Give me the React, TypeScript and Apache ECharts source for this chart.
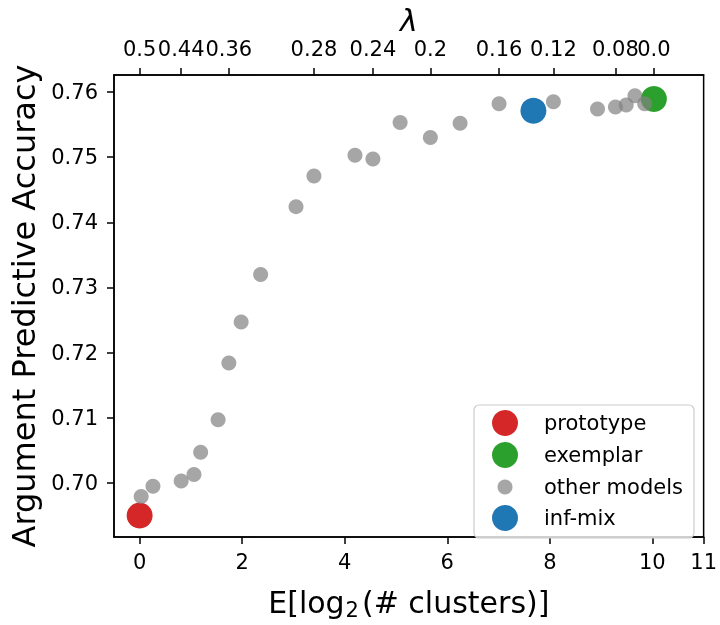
import React, { useEffect, useRef } from "react";
import * as echarts from "echarts";

const xTicks = [0, 2, 4, 6, 8, 10, 11];
const yTicks = [0.7, 0.71, 0.72, 0.73, 0.74, 0.75, 0.76];
const lambdaPositions = [0, 0.81, 1.74, 3.4, 4.55, 5.67, 7.01, 8.07, 9.28, 10.03];
const lambdaLabels = ["0.5", "0.44", "0.36", "0.28", "0.24", "0.2", "0.16", "0.12", "0.08", "0.0"];

const prototypeX = [0.0];
const prototypeY = [0.695];
const exemplarX = [10.03];
const exemplarY = [0.7589];
const infMixX = [7.68];
const infMixY = [0.7571];
const otherX = [0.03, 0.26, 0.81, 1.06, 1.19, 1.53, 1.74, 1.98, 2.36, 3.05, 3.4, 4.2, 4.55, 5.08, 5.67, 6.25, 7.01, 8.07, 8.93, 9.28, 9.49, 9.66, 9.85];
const otherY = [0.6979, 0.6995, 0.7003, 0.7013, 0.7047, 0.7097, 0.7184, 0.7247, 0.732, 0.7424, 0.7471, 0.7503, 0.7497, 0.7553, 0.753, 0.7552, 0.7582, 0.7585, 0.7574, 0.7577, 0.758, 0.7594, 0.7582];

const legendNames = ["prototype", "exemplar", "other models", "inf-mix"];
const legendColors = ["#d62728", "#2ca02c", "rgba(128,128,128,0.7)", "#1f77b4"];
const legendSizes = [13, 13, 7.5, 13];

const FONT = "DejaVu Sans";
const Y_MIN = 0.6917;
const Y_MAX = 0.7626;
const zip = (xs: number[], ys: number[]) => xs.map((x, i) => [x, ys[i]]);

export default function App() {
  const ref = useRef<HTMLDivElement>(null);
  useEffect(() => {
    if (!ref.current) return;
    const chart = echarts.init(ref.current, null, { renderer: "svg" });
    const axisLine = { show: true, onZero: false, lineStyle: { color: "#000", width: 1.5 } };
    const tick = { show: true, length: 7, lineStyle: { color: "#000", width: 1.5 } };
    const legendGraphics: any[] = [
      {
        type: "rect",
        shape: { x: 474, y: 405, width: 220, height: 133, r: 5 },
        style: { fill: "rgba(255,255,255,0.8)", stroke: "#cccccc", lineWidth: 1.2 },
        z: 10,
      },
    ];
    const rowsY = [423, 455, 487, 518];
    legendNames.forEach((n, i) => {
      legendGraphics.push({
        type: "circle",
        shape: { cx: 505, cy: rowsY[i], r: legendSizes[i] },
        style: { fill: legendColors[i] },
        z: 11,
      });
      legendGraphics.push({
        type: "text",
        x: 544,
        y: rowsY[i],
        style: { text: n, font: `21px '${FONT}'`, fill: "#000", verticalAlign: "middle" },
        z: 11,
      });
    });
    const labelBase = { color: "#000", fontSize: 21, showMinLabel: true, showMaxLabel: true, hideOverlap: false };
    chart.setOption({
      animation: false,
      textStyle: { fontFamily: FONT },
      grid: { left: 104.5, right: 14, top: 71, bottom: 76, show: true, borderColor: "#000", borderWidth: 1.5 },
      xAxis: [
        {
          type: "value",
          min: -0.5,
          max: 11,
          position: "bottom",
          splitLine: { show: false },
          axisLine,
          axisTick: { ...tick, customValues: xTicks },
          axisLabel: { ...labelBase, margin: 14, customValues: xTicks, formatter: (v: number) => String(v) },
          name: "{a|E[log}{s|2}{a|(# clusters)]}",
          nameLocation: "middle",
          nameGap: 48,
          nameTextStyle: {
            rich: {
              a: { fontSize: 30, fontFamily: FONT, color: "#000" },
              s: { fontSize: 21, fontFamily: FONT, color: "#000", padding: [14, 3, 0, 1] },
            },
          },
        },
        {
          type: "value",
          min: -0.5,
          max: 11,
          position: "top",
          splitLine: { show: false },
          axisLine,
          axisTick: { ...tick, customValues: lambdaPositions },
          axisLabel: { show: false },
          name: "λ",
          nameLocation: "middle",
          nameGap: 40,
          nameTextStyle: { fontSize: 30, fontStyle: "italic", color: "#000", fontFamily: FONT },
        },
      ],
      yAxis: {
        type: "value",
        min: Y_MIN,
        max: Y_MAX,
        splitLine: { show: false },
        axisLine,
        axisTick: { ...tick, customValues: yTicks },
        axisLabel: { ...labelBase, margin: 16, customValues: yTicks, formatter: (v: number) => v.toFixed(2) },
        name: "Argument Predictive Accuracy",
        nameLocation: "middle",
        nameGap: 74,
        nameTextStyle: { fontSize: 32, color: "#000", fontFamily: FONT },
      },
      graphic: legendGraphics,
      series: [
        { name: "prototype", type: "scatter", data: zip(prototypeX, prototypeY), symbolSize: 26, itemStyle: { color: "#d62728", opacity: 1 } },
        { name: "exemplar", type: "scatter", data: zip(exemplarX, exemplarY), symbolSize: 26, itemStyle: { color: "#2ca02c", opacity: 1 } },
        { name: "other models", type: "scatter", data: zip(otherX, otherY), symbolSize: 15, itemStyle: { color: "#808080", opacity: 0.7 } },
        { name: "inf-mix", type: "scatter", data: zip(infMixX, infMixY), symbolSize: 26, itemStyle: { color: "#1f77b4", opacity: 1 } },
        {
          name: "lambda labels",
          type: "custom",
          xAxisIndex: 1,
          yAxisIndex: 0,
          clip: false,
          silent: true,
          data: lambdaPositions.map((p, i) => [p, i]),
          renderItem: (_params: any, api: any) => {
            const pt = api.coord([api.value(0), Y_MAX]);
            return {
              type: "text",
              x: pt[0],
              y: pt[1] - 26,
              style: {
                text: lambdaLabels[api.value(1)],
                font: `21px '${FONT}'`,
                fill: "#000",
                align: "center",
                verticalAlign: "middle",
              },
            };
          },
        },
      ],
    });
    return () => chart.dispose();
  }, []);
  return <div ref={ref} style={{ position: "fixed", left: 0, top: 0, width: 720, height: 625 }} />;
}
